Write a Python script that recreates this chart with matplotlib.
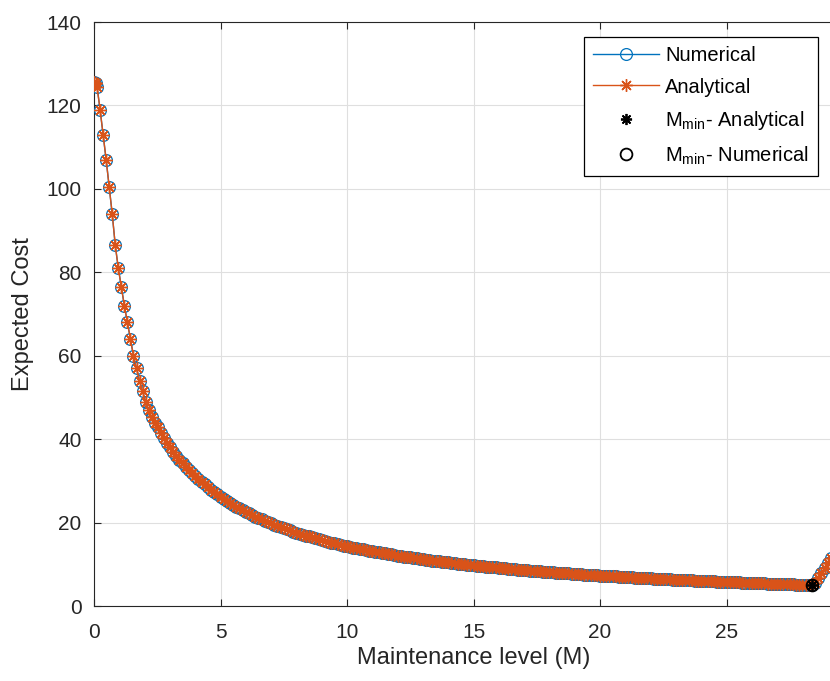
import matplotlib
matplotlib.use("Agg")
import matplotlib.pyplot as plt

plt.rcParams['font.family'] = ['Liberation Sans', 'DejaVu Sans']
plt.rcParams['mathtext.fontset'] = 'custom'
plt.rcParams['mathtext.rm'] = 'Liberation Sans'

# Maintenance level M
M_vals = [
    0.00, 0.06, 0.12, 0.24, 0.36, 0.48, 0.60, 0.72, 0.84, 0.96, 1.08, 1.20,
    1.32, 1.44, 1.56, 1.68, 1.80, 1.92, 2.04, 2.16, 2.28, 2.40, 2.52, 2.64,
    2.76, 2.88,
    3.000, 3.125, 3.250, 3.375, 3.500, 3.625, 3.750, 3.875,
    4.000, 4.125, 4.250, 4.375, 4.500, 4.625, 4.750, 4.875,
    5.000, 5.125, 5.250, 5.375, 5.500, 5.625, 5.750, 5.875,
    6.000, 6.125, 6.250, 6.375, 6.500, 6.625, 6.750, 6.875,
    7.000, 7.125, 7.250, 7.375, 7.500, 7.625, 7.750, 7.875,
    8.000, 8.125, 8.250, 8.375, 8.500, 8.625, 8.750, 8.875,
    9.000, 9.125, 9.250, 9.375, 9.500, 9.625, 9.750, 9.875,
    10.000, 10.125, 10.250, 10.375, 10.500, 10.625, 10.750, 10.875,
    11.000, 11.125, 11.250, 11.375, 11.500, 11.625, 11.750, 11.875,
    12.000, 12.125, 12.250, 12.375, 12.500, 12.625, 12.750, 12.875,
    13.000, 13.125, 13.250, 13.375, 13.500, 13.625, 13.750, 13.875,
    14.000, 14.125, 14.250, 14.375, 14.500, 14.625, 14.750, 14.875,
    15.000, 15.125, 15.250, 15.375, 15.500, 15.625, 15.750, 15.875,
    16.000, 16.125, 16.250, 16.375, 16.500, 16.625, 16.750, 16.875,
    17.000, 17.125, 17.250, 17.375, 17.500, 17.625, 17.750, 17.875,
    18.000, 18.125, 18.250, 18.375, 18.500, 18.625, 18.750, 18.875,
    19.000, 19.125, 19.250, 19.375, 19.500, 19.625, 19.750, 19.875,
    20.000, 20.125, 20.250, 20.375, 20.500, 20.625, 20.750, 20.875,
    21.000, 21.125, 21.250, 21.375, 21.500, 21.625, 21.750, 21.875,
    22.000, 22.125, 22.250, 22.375, 22.500, 22.625, 22.750, 22.875,
    23.000, 23.125, 23.250, 23.375, 23.500, 23.625, 23.750, 23.875,
    24.000, 24.125, 24.250, 24.375, 24.500, 24.625, 24.750, 24.875,
    25.000, 25.125, 25.250, 25.375, 25.500, 25.625, 25.750, 25.875,
    26.000, 26.125, 26.250, 26.375, 26.500, 26.625, 26.750, 26.875,
    27.000, 27.125, 27.250, 27.375, 27.500, 27.625, 27.750, 27.875,
    28.000, 28.125, 28.250, 28.375, 28.500, 28.625, 28.750, 28.875,
    29.000, 29.125,
]

# Expected cost (numerical)
cost_numerical = [
    125.5, 125.3, 124.5, 119.0, 113.0, 107.0, 100.5, 94.0, 86.5, 81.0, 76.5, 72.0,
    68.0, 64.0, 60.0, 57.0, 54.0, 51.5, 49.0, 47.0, 45.2, 43.8, 42.8, 41.5,
    40.3, 39.1,
    38.0, 37.0, 36.0, 35.1, 34.2, 33.4, 32.6, 31.85,
    31.1, 30.45, 29.8, 29.15, 28.5, 27.9, 27.3, 26.75,
    26.2, 25.7, 25.2, 24.75, 24.3, 23.85, 23.4, 23.0,
    22.6, 22.2, 21.8, 21.45, 21.1, 20.75, 20.4, 20.1,
    19.8, 19.5, 19.2, 18.9, 18.6, 18.35, 18.1, 17.85,
    17.6, 17.35, 17.1, 16.9, 16.7, 16.45, 16.2, 16.0,
    15.8, 15.6, 15.4, 15.2, 15.0, 14.85, 14.7, 14.5,
    14.30, 14.15, 14.00, 13.85, 13.70, 13.55, 13.40, 13.25,
    13.10, 12.98, 12.85, 12.73, 12.60, 12.48, 12.35, 12.23,
    12.10, 11.98, 11.85, 11.75, 11.65, 11.53, 11.40, 11.30,
    11.20, 11.10, 11.00, 10.90, 10.80, 10.70, 10.60, 10.53,
    10.45, 10.35, 10.25, 10.18, 10.10, 10.00, 9.90, 9.83,
    9.75, 9.68, 9.60, 9.53, 9.45, 9.38, 9.30, 9.23,
    9.15, 9.08, 9.00, 8.95, 8.90, 8.83, 8.75, 8.68,
    8.60, 8.55, 8.50, 8.45, 8.40, 8.33, 8.25, 8.20,
    8.15, 8.08, 8.00, 7.95, 7.90, 7.85, 7.80, 7.75,
    7.70, 7.65, 7.60, 7.55, 7.50, 7.45, 7.40, 7.35,
    7.30, 7.25, 7.20, 7.15, 7.10, 7.08, 7.05, 7.00,
    6.95, 6.90, 6.85, 6.80, 6.75, 6.73, 6.70, 6.65,
    6.60, 6.55, 6.50, 6.48, 6.45, 6.43, 6.40, 6.35,
    6.30, 6.28, 6.25, 6.20, 6.15, 6.13, 6.10, 6.05,
    6.00, 5.98, 5.95, 5.93, 5.90, 5.85, 5.80, 5.78,
    5.75, 5.73, 5.70, 5.68, 5.65, 5.63, 5.60, 5.55,
    5.50, 5.48, 5.45, 5.43, 5.40, 5.38, 5.35, 5.33,
    5.30, 5.28, 5.25, 5.23, 5.20, 5.18, 5.15, 5.13,
    5.10, 5.08, 5.07, 5.05, 5.60, 6.60, 7.80, 9.00,
    10.20, 11.40,
]

# Expected cost (analytical) -- coincides with the numerical curve
cost_analytical = list(cost_numerical)

# Minimum points
mmin_analytical = (28.375, 5.05)
mmin_numerical = (28.375, 5.05)

blue = '#0072BD'
orange = '#D95319'
dark = '#262626'

fig = plt.figure(figsize=(8.30, 6.81), dpi=100)
ax_left = 94 / 830
ax_bottom = 75 / 681
ax_height = 584 / 681
ax_width = (30 * 25.3) / 830
ax = fig.add_axes([ax_left, ax_bottom, ax_width, ax_height])

ax.plot(M_vals, cost_numerical, '-', color=blue, lw=1.0, marker='o',
        markersize=8.5, markerfacecolor='none', markeredgecolor=blue,
        markeredgewidth=0.9, label='Numerical', zorder=3)
ax.plot(M_vals, cost_analytical, '-', color=orange, lw=1.0, marker=(8, 2, 0),
        markersize=9, markeredgecolor=orange, markeredgewidth=1.0,
        label='Analytical', zorder=4)
ax.plot([mmin_analytical[0]], [mmin_analytical[1]], linestyle='none',
        marker=(8, 2, 0), color='black', markersize=8, markeredgewidth=1.3,
        label=r'M$_{\mathrm{min}}$- Analytical', zorder=5)
ax.plot([mmin_numerical[0]], [mmin_numerical[1]], linestyle='none', marker='o',
        markerfacecolor='none', markeredgecolor='black', markersize=8.5,
        markeredgewidth=1.3, label=r'M$_{\mathrm{min}}$- Numerical', zorder=5)

ax.set_xlim(0, 30)
ax.set_ylim(0, 140)
ax.set_xticks([0, 5, 10, 15, 20, 25])
ax.set_yticks(range(0, 141, 20))
ax.grid(True, color='#dfdfdf', linewidth=0.8)
ax.set_axisbelow(True)
ax.tick_params(direction='in', top=True, right=True, labelsize=15,
               colors=dark, length=5, width=0.8)
ax.tick_params(axis='x', pad=12)
ax.tick_params(axis='y', pad=9)
for s in ax.spines.values():
    s.set_color(dark)
    s.set_linewidth(0.8)

ax.set_xlabel('Maintenance level (M)', fontsize=17, color=dark, labelpad=4)
ax.set_ylabel('Expected Cost', fontsize=17, color=dark, labelpad=9)

leg = ax.legend(loc='upper right', bbox_to_anchor=(818 / 830, 1 - 37 / 681),
                bbox_transform=fig.transFigure, fontsize=14.5, frameon=True,
                fancybox=False, framealpha=1, edgecolor='black', numpoints=1,
                handlelength=3.3, handletextpad=0.3, borderpad=0.45,
                labelspacing=0.62, borderaxespad=0)
leg.get_frame().set_linewidth(0.9)

fig.savefig('out.png', dpi=100)
